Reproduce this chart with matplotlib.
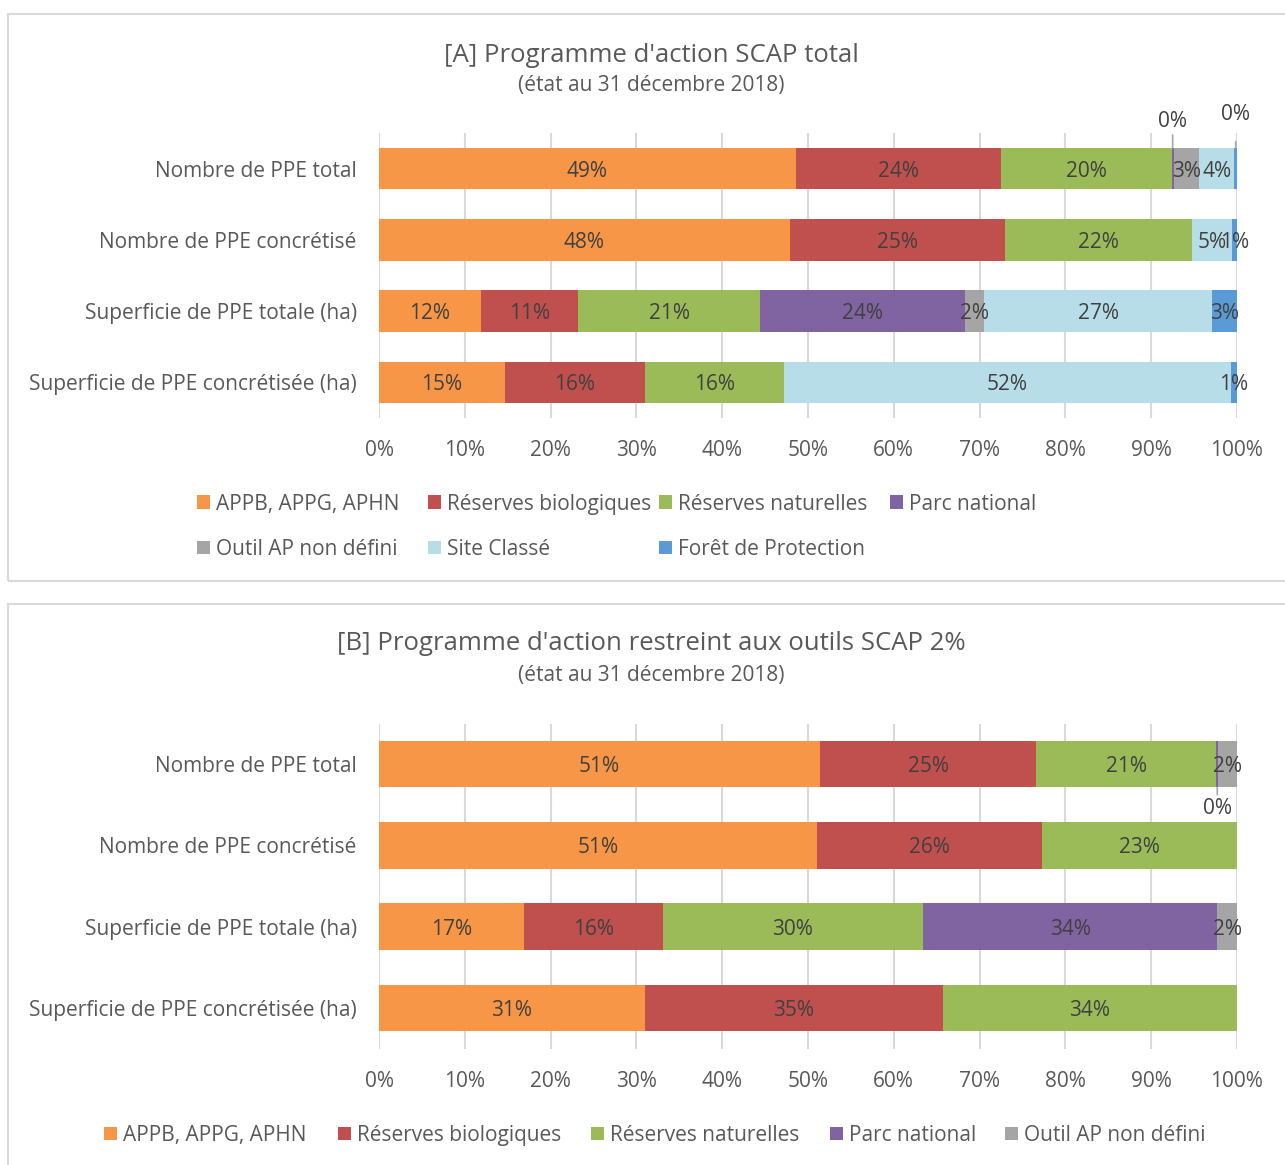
import numpy as np
import matplotlib
matplotlib.use("Agg")
import matplotlib.pyplot as plt
from matplotlib.patches import Rectangle

plt.rcParams['font.family'] = ['Open Sans', 'DejaVu Sans']

categories = ["Nombre de PPE total", "Nombre de PPE concrétisé",
              "Superficie de PPE totale (ha)", "Superficie de PPE concrétisée (ha)"]
ticks = np.arange(0, 101, 10)
tick_labels = [f"{t}%" for t in ticks]

# [A] programme total (percent of row)
appb_a = [48.6, 47.9, 11.9, 14.7]
resbio_a = [23.9, 25.1, 11.3, 16.3]
resnat_a = [19.9, 21.8, 21.2, 16.2]
parc_a = [0.2, 0.0, 23.9, 0.0]
outil_a = [3.0, 0.0, 2.2, 0.0]
site_a = [4.1, 4.6, 26.6, 52.1]
foret_a = [0.3, 0.6, 2.9, 0.7]

# [B] restreint aux outils SCAP 2%
appb_b = [51.4, 51.0, 16.9, 31.0]
resbio_b = [25.2, 26.3, 16.2, 34.7]
resnat_b = [21.0, 22.7, 30.3, 34.3]
parc_b = [0.2, 0.0, 34.3, 0.0]
outil_b = [2.2, 0.0, 2.3, 0.0]

names = ["APPB, APPG, APHN", "Réserves biologiques", "Réserves naturelles",
         "Parc national", "Outil AP non défini", "Site Classé", "Forêt de Protection"]
colors = ["#F79646", "#C0504D", "#9BBB59", "#8064A2", "#A5A5A5", "#B7DEE8", "#5B9BD5"]
TXT = "#404040"
LAB = "#595959"
GRID = "#D9D9D9"

W, H = 1285, 1165
fig = plt.figure(figsize=(W / 100, H / 100), dpi=100)

# panel frames
fig.patches.append(Rectangle((8 / W, 1 - 581 / H), 1.0, 567 / H, transform=fig.transFigure,
                             fill=False, edgecolor=GRID, linewidth=1.5))
fig.patches.append(Rectangle((8 / W, -0.01), 1.0, (1165 - 604) / H + 0.01, transform=fig.transFigure,
                             fill=False, edgecolor=GRID, linewidth=1.5))


def draw(ax, series, height, outside):
    y = np.arange(len(categories))
    left = np.zeros(len(categories))
    for i, vals in enumerate(series):
        vals = np.array(vals)
        ax.barh(y, vals, left=left, height=height, color=colors[i], linewidth=0, zorder=2)
        for j, v in enumerate(vals):
            if v >= 0.5:
                ax.text(left[j] + v / 2, y[j], f"{v:.0f}%", ha="center", va="center_baseline",
                        fontsize=15, color=TXT, zorder=3)
            elif v > 0 and (i, j) in outside:
                dy, ly = outside[(i, j)]
                x = left[j] + v / 2
                ax.annotate(f"{v:.0f}%", xy=(x, y[j] + dy * height / 2), xytext=(x, y[j] + ly),
                            ha="center", va="center", fontsize=15, color=TXT, zorder=3,
                            arrowprops=dict(arrowstyle="-", color="#A6A6A6", lw=1.2,
                                            shrinkA=10, shrinkB=0))
        left += vals
    ax.set_xlim(0, 100)
    ax.set_ylim(len(categories) - 0.5, -0.5)
    ax.set_yticks(y)
    ax.set_yticklabels(categories, fontsize=15, color=LAB)
    ax.set_xticks(ticks)
    ax.set_xticklabels(tick_labels, fontsize=15, color=LAB)
    ax.tick_params(axis="y", length=0, pad=16)
    ax.tick_params(axis="x", length=0, pad=16)
    ax.grid(axis="x", color=GRID, linewidth=1.5, zorder=0)
    for s in ax.spines.values():
        s.set_visible(False)


def legend(items, xs, ys):
    for k, x, yy in zip(items, xs, ys):
        fig.patches.append(Rectangle((x / W, 1 - (yy + 6.5) / H), 13 / W, 13 / H,
                                     transform=fig.transFigure, color=colors[k], linewidth=0))
        fig.text((x + 19) / W, 1 - yy / H, names[k], ha="left", va="center_baseline",
                 fontsize=15, color=LAB)


# ---- [A]
axA = fig.add_axes([379 / W, 1 - 418 / H, 858 / W, 285 / H])
draw(axA, [appb_a, resbio_a, resnat_a, parc_a, outil_a, site_a, foret_a], 0.58,
     {(3, 0): (-1, -0.66), (6, 0): (-1, -0.76)})
fig.text(651 / W, 1 - 55 / H, "[A] Programme d'action SCAP total", ha="center", va="center",
         fontsize=18.5, color=LAB)
fig.text(651 / W, 1 - 86 / H, "(état au 31 décembre 2018)", ha="center", va="center",
         fontsize=15, color=LAB)
legend(range(7), [197, 428, 659, 890, 197, 428, 659], [502] * 4 + [547] * 3)

# ---- [B]
axB = fig.add_axes([379 / W, 1 - 1048.5 / H, 858 / W, 325 / H])
draw(axB, [appb_b, resbio_b, resnat_b, parc_b, outil_b], 0.57,
     {(3, 0): (1, 0.54)})
fig.text(651 / W, 1 - 644 / H, "[B] Programme d'action restreint aux outils SCAP 2%", ha="center",
         va="center", fontsize=18.5, color=LAB)
fig.text(651 / W, 1 - 676 / H, "(état au 31 décembre 2018)", ha="center", va="center",
         fontsize=15, color=LAB)
legend(range(5), [104, 338, 591, 830, 1005], [1133] * 5)

fig.savefig("out.png", dpi=100)
